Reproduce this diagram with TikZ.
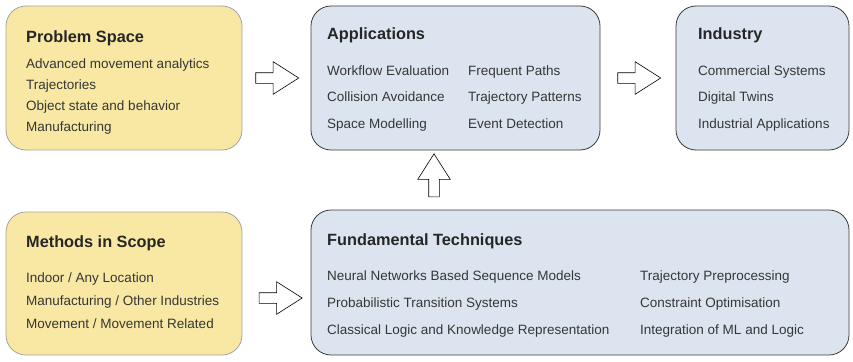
\documentclass[tikz,border=0pt]{standalone}
\usepackage{fontspec}
\setmainfont{Liberation Sans}
\usetikzlibrary{shapes.arrows, positioning}

\definecolor{sandfill}{HTML}{F9E8A3}
\definecolor{sanddraw}{HTML}{A3A3A3}
\definecolor{skyfill}{HTML}{DCE5EF}
\definecolor{skydraw}{HTML}{3A3A3A}
\definecolor{headtext}{HTML}{262626}
\definecolor{bodytext}{HTML}{363636}

\begin{document}
\begin{tikzpicture}[x=1pt, y=-1pt, font=\fontsize{13.5}{16}\selectfont]
      \tikzstyle{sandbox}=[draw=sanddraw, fill=sandfill, line width=0.8pt, rounded corners=20pt]
      \tikzstyle{skybox}=[draw=skydraw, fill=skyfill, line width=0.8pt, rounded corners=20pt]
      \tikzstyle{heading}=[anchor=base west, inner sep=0pt, text=headtext, font=\fontsize{16.3}{19}\selectfont\bfseries]
      \tikzstyle{entry}=[anchor=base west, inner sep=0pt, text=bodytext]
      \tikzstyle{blockarrow}=[single arrow, draw=black, fill=white, line width=0.6pt, inner sep=5pt,
        minimum height=43pt, single arrow head extend=11pt, single arrow tip angle=65]

      \useasboundingbox (0,0) rectangle (853,361);

      % Initialise each box and set its position.
      \node[sandbox, minimum width=236pt, minimum height=144pt]
        (prob) at (124,78)     % prob is top left.
        {};
      \node[skybox, minimum width=289pt, minimum height=144pt]
        (app) at (455.5,78)    % app is top middle.
        {};
      \node[skybox, minimum width=173pt, minimum height=144pt]
        (ind) at (762.5,78)    % ind is top right.
        {};
      \node[sandbox, minimum width=236pt, minimum height=143pt]
        (meth) at (124,283.5)  % meth is bottom left.
        {};
      \node[skybox, minimum width=538pt, minimum height=145pt]
        (fund) at (580,282.5)  % fund is bottom right.
        {};

      % Headings and their entries.
      \node[heading] (prob-h) at (26,42) {Problem Space};
      \foreach \t [count=\i] in {Advanced movement analytics, Trajectories,
          Object state and behavior, Manufacturing}
        \node[entry] (prob-\i) at (26,68+21*\i-21) {\t};

      \node[heading] (app-h) at (327,40) {Applications};
      \foreach \a/\b [count=\i] in {Workflow Evaluation/Frequent Paths,
          Collision Avoidance/Trajectory Patterns, Space Modelling/Event Detection}{
        \node[entry] (app-a\i) at (327,75+26.5*\i-26.5) {\a};
        \node[entry] (app-b\i) at (468,75+26.5*\i-26.5) {\b};
      }

      \node[heading] (ind-h) at (698,40) {Industry};
      \foreach \t [count=\i] in {Commercial Systems, Digital Twins, Industrial Applications}
        \node[entry] (ind-\i) at (698,75+26.5*\i-26.5) {\t};

      \node[heading] (meth-h) at (26,247) {Methods in Scope};
      \foreach \t [count=\i] in {{Indoor / Any Location}, {Manufacturing / Other Industries},
          {Movement / Movement Related}}
        \node[entry] (meth-\i) at (26,282+23*\i-23) {\t};

      \node[heading] (fund-h) at (327,245) {Fundamental Techniques};
      \foreach \a/\b [count=\i] in {Neural Networks Based Sequence Models/Trajectory Preprocessing,
          Probabilistic Transition Systems/Constraint Optimisation,
          Classical Logic and Knowledge Representation/Integration of ML and Logic}{
        \node[entry] (fund-a\i) at (327,280+27*\i-27) {\a};
        \node[entry] (fund-b\i) at (640,280+27*\i-27) {\b};
      }

      % Block arrows between the boxes.
      \node[blockarrow, right=13pt of prob] (prob-app) {};
      \node[blockarrow, right=17pt of app] (app-ind) {};
      \node[blockarrow] (meth-fund) at (276.5,298) {};
      \node[blockarrow, shape border rotate=90] (fund-app) at (434,179.5) {};
    \end{tikzpicture}
\end{document}
